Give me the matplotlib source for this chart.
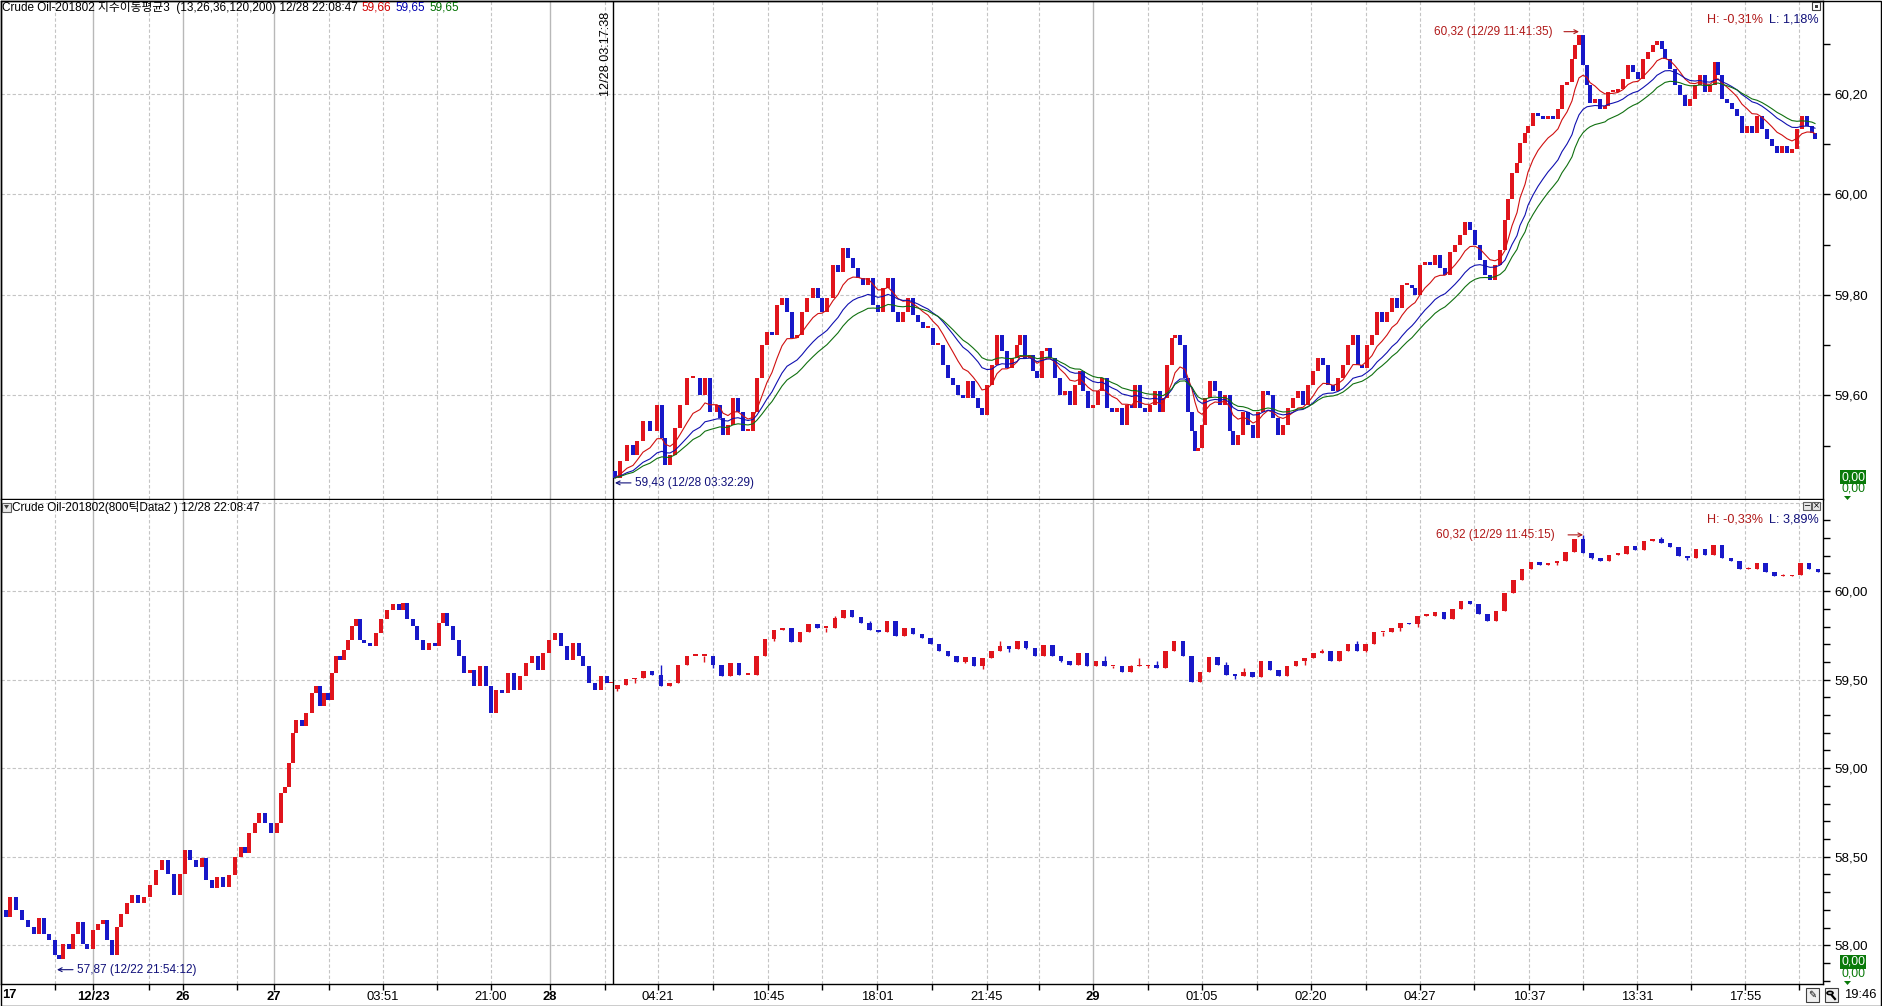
import numpy as np
import matplotlib
matplotlib.use('Agg')
import matplotlib.pyplot as plt
from matplotlib import font_manager as fm
from matplotlib.patches import Rectangle, Polygon, Circle
from matplotlib.lines import Line2D
from matplotlib.transforms import offset_copy

# ---------------- data ----------------
# top panel: tick chart closes (x = time slot on the shared axis)
top_x = [615, 620, 627, 633, 637, 643, 650, 657, 662, 665, 670, 675, 680, 687, 693, 700, 705, 710,
         717, 720, 723, 728, 733, 738, 743, 748, 753, 757, 762, 767, 772, 777, 782, 787, 792, 797,
         802, 807, 813, 818, 822, 827, 833, 838, 843, 848, 853, 858, 863, 868, 873, 878, 883, 888,
         893, 898, 903, 908, 913, 918, 923, 928, 933, 938, 943, 948, 953, 958, 963, 968, 973, 978,
         982, 987, 992, 997, 1002, 1007, 1012, 1017, 1020,
         1025, 1030, 1033, 1037, 1042, 1047, 1050, 1055, 1060, 1065, 1070, 1075, 1080, 1083, 1088,
         1093, 1098, 1102, 1107, 1112, 1117, 1122, 1127, 1132, 1135, 1140, 1145, 1150, 1155, 1160,
         1163, 1167, 1172, 1175, 1180, 1185, 1188, 1192, 1195, 1198, 1202, 1205, 1210, 1215, 1220,
         1225, 1230, 1233, 1238, 1243, 1248, 1253, 1258, 1263, 1268, 1273, 1278, 1283, 1288, 1293,
         1298, 1303, 1308, 1313, 1318, 1323, 1328, 1333, 1338, 1343, 1348, 1353, 1358, 1362, 1367,
         1372, 1377, 1382, 1387, 1392, 1397, 1402, 1407, 1412, 1415, 1420, 1425, 1430, 1435, 1440,
         1445, 1450,
         1455, 1460, 1465, 1470, 1475, 1480, 1485, 1490, 1495, 1500, 1505, 1508,
         1512, 1517, 1520, 1525, 1528, 1533, 1538, 1543, 1548, 1553, 1558, 1562, 1567, 1572, 1575,
         1579, 1583, 1587, 1590, 1595, 1600, 1605, 1608, 1613, 1618, 1623, 1628, 1633, 1638, 1643,
         1648, 1653, 1657, 1662, 1665, 1670, 1675, 1680, 1685, 1690, 1695, 1700, 1705, 1710, 1715,
         1718, 1722, 1727, 1732, 1737, 1742, 1747, 1752, 1757, 1762, 1767, 1772, 1777, 1782, 1787,
         1792, 1797, 1802, 1807, 1812, 1815]
top_close = [59.436, 59.469, 59.502, 59.482, 59.509, 59.549, 59.529, 59.582, 59.515, 59.462, 59.482,
             59.535, 59.582, 59.635, 59.635, 59.601, 59.635, 59.568, 59.582, 59.555, 59.522, 59.542,
             59.595, 59.568, 59.529, 59.529, 59.568, 59.635, 59.701, 59.727, 59.721, 59.780, 59.793,
             59.767, 59.714, 59.721, 59.767, 59.793, 59.813, 59.793, 59.767, 59.793, 59.860, 59.846,
             59.893, 59.873, 59.853, 59.833, 59.820, 59.833, 59.780, 59.767, 59.813, 59.833, 59.767,
             59.747, 59.767, 59.793, 59.760, 59.747, 59.734, 59.734, 59.701, 59.701, 59.661, 59.635,
             59.621, 59.601, 59.595, 59.628, 59.595, 59.575, 59.562, 59.621, 59.661, 59.721, 59.688,
             59.654, 59.674, 59.701, 59.721,
             59.674, 59.681, 59.648, 59.635, 59.688, 59.694, 59.674, 59.635, 59.601, 59.608, 59.582,
             59.621, 59.648, 59.608, 59.575, 59.582, 59.608, 59.635, 59.575, 59.568, 59.575, 59.542,
             59.582, 59.575, 59.621, 59.575, 59.568, 59.582, 59.608, 59.568, 59.595, 59.661, 59.714,
             59.721, 59.701, 59.635, 59.568, 59.529, 59.489, 59.496, 59.542, 59.595, 59.628, 59.608,
             59.582, 59.601, 59.529, 59.502, 59.522, 59.568, 59.542, 59.515, 59.568, 59.608, 59.601,
             59.555, 59.522, 59.542, 59.575, 59.595, 59.608, 59.582, 59.621, 59.648, 59.674, 59.661,
             59.621, 59.608, 59.635, 59.661, 59.701, 59.721, 59.661, 59.654, 59.701, 59.721, 59.767,
             59.747, 59.767, 59.793, 59.774, 59.820, 59.820, 59.813, 59.800, 59.860, 59.866, 59.860,
             59.880, 59.853, 59.840, 59.886,
             59.900, 59.920, 59.945, 59.930, 59.900, 59.870, 59.840, 59.830, 59.860, 59.890, 59.950,
             59.990,
             60.043, 60.063, 60.103, 60.123, 60.137, 60.163, 60.157, 60.150, 60.157, 60.150, 60.170,
             60.217, 60.223, 60.270, 60.297, 60.318, 60.257, 60.217, 60.183, 60.190, 60.170, 60.177,
             60.203, 60.203, 60.210, 60.230, 60.257, 60.243, 60.230, 60.270, 60.283, 60.297, 60.306,
             60.290, 60.270, 60.250, 60.217, 60.197, 60.177, 60.190, 60.217, 60.237, 60.203, 60.217,
             60.263, 60.237, 60.190, 60.183, 60.170, 60.157, 60.123, 60.137, 60.123, 60.157, 60.130,
             60.110, 60.097, 60.083, 60.097, 60.083, 60.090, 60.130, 60.157, 60.137, 60.123, 60.110]
top_open0 = 59.45

# bottom panel, dense part (800-tick bars before the cursor)
bot_x = [0, 6, 10, 16, 22, 28, 34, 39, 44, 49, 55, 59, 63, 69, 73, 78, 83, 87, 93, 98, 103, 107,
         112, 117, 121, 127, 132, 138, 144, 150, 156, 162, 168, 174, 180, 185, 190, 196, 202, 206,
         212, 217, 223, 229, 235, 241, 245, 249, 255, 259, 265, 271, 277, 281, 285, 289, 293, 296,
         302, 306, 312, 316, 320, 324, 328, 332, 336, 340, 344, 348, 352, 356, 360, 364, 370, 376,
         381, 387, 393, 399, 403, 407, 413, 417, 423, 429, 435, 439, 443, 447, 453, 459, 464, 470,
         474, 480, 486, 491, 496, 502, 508, 514, 520, 526, 532, 538, 543, 549, 555, 561, 567, 573,
         579, 583, 589, 595, 601, 607, 611]
bot_close = [58.198, 58.160, 58.273, 58.198, 58.141, 58.104, 58.066, 58.151, 58.066, 58.028, 57.943,
             57.924, 58.009, 57.981, 58.066, 58.132, 58.009, 57.981, 58.085, 58.122, 58.141, 58.028,
             57.943, 58.104, 58.179, 58.236, 58.283, 58.236, 58.273, 58.339, 58.424, 58.481, 58.405,
             58.283, 58.405, 58.538, 58.481, 58.443, 58.490, 58.368, 58.321, 58.387, 58.330, 58.396,
             58.500, 58.556, 58.519, 58.632, 58.689, 58.745, 58.689, 58.632, 58.689, 58.858, 58.896,
             59.028, 59.198, 59.274, 59.236, 59.311, 59.424, 59.462, 59.349, 59.424, 59.387, 59.538,
             59.632, 59.613, 59.670, 59.726, 59.802, 59.840, 59.726, 59.708, 59.689, 59.764, 59.840,
             59.896, 59.925, 59.896, 59.934, 59.840, 59.802, 59.726, 59.670, 59.708, 59.689, 59.821,
             59.877, 59.802, 59.726, 59.632, 59.538, 59.557, 59.462, 59.575, 59.462, 59.311, 59.443,
             59.424, 59.538, 59.443, 59.519, 59.594, 59.632, 59.557, 59.651, 59.726, 59.764, 59.689,
             59.613, 59.708, 59.632, 59.575, 59.481, 59.443, 59.519, 59.481, 59.481]
bot_open0 = 58.17

cursor_x = 613
ma_periods = [13, 26, 36]

# axis ticks (time slots) and labels
xlab_pos = [93, 183, 274, 383, 491, 550, 658, 768, 877, 987, 1093, 1202, 1311, 1420, 1529, 1637, 1745]
xlab_txt = ['12/23', '26', '27', '03:51', '21:00', '28', '04:21', '10:45', '18:01', '21:45', '29',
            '01:05', '02:20', '04:27', '10:37', '13:31', '17:55']
day_lines = [93, 183, 274, 550, 1093]
grid_x = [55, 149, 237, 329, 383, 437, 491, 605, 658, 713, 768, 822, 877, 932, 987, 1039, 1148, 1202,
          1257, 1311, 1366, 1420, 1474, 1529, 1583, 1637, 1691, 1745, 1799]
top_yticks = [59.6, 59.8, 60.0, 60.2]
bot_yticks = [58.0, 58.5, 59.0, 59.5, 60.0]

# ---------------- style ----------------
W, H, DPI = 1882, 1006, 100


def has_font(name):
    try:
        fm.findfont(fm.FontProperties(family=name), fallback_to_default=False)
        return True
    except Exception:
        return False


NARROW = has_font('Liberation Sans Narrow')
BASE = 'Liberation Sans Narrow' if NARROW else 'Liberation Sans'
plt.rcParams['font.family'] = [BASE, 'Noto Sans CJK KR', 'DejaVu Sans']
FS = 9.4 if NARROW else 8.2
FT = FS + 0.3          # header / annotation text size

RED = '#e0141c'
BLUE = '#1818c8'
DKRED = '#b01818'
NAVY = '#10107a'
GRID = '#c4c4c4'
GREEN = '#0a7a0a'

fig = plt.figure(figsize=(W / DPI, H / DPI), dpi=DPI)
fig.patch.set_facecolor('white')


def fx(px):
    return px / W


def fy(py):
    return 1 - py / H


ax_top = fig.add_axes([fx(1), fy(499), (1823 - 1) / W, 498 / H])
ax_bot = fig.add_axes([fx(1), fy(984), (1823 - 1) / W, (984 - 500) / H])

XL = (1, 1823)
for ax in (ax_top, ax_bot):
    ax.set_xlim(*XL)
    ax.set_facecolor('white')
    for s in ax.spines.values():
        s.set_color('black')
        s.set_linewidth(1.0)
    ax.yaxis.tick_right()
    ax.tick_params(axis='y', which='both', direction='out', right=True, left=False,
                   color='black', width=1, labelsize=FS + 1.4, pad=3)
    ax.tick_params(axis='y', which='major', length=5)
    ax.tick_params(axis='y', which='minor', length=5)
    for gx in grid_x:
        ax.axvline(gx, color=GRID, lw=0.8, ls=(0, (3, 2)), zorder=0)
    for gx in day_lines:
        ax.axvline(gx, color='#b8b8b8', lw=1.0, zorder=0)
    ax.axvline(cursor_x, color='black', lw=1.0, zorder=2)

ax_bot.spines['top'].set_visible(False)

# y axes
ax_top.set_ylim(59.394, 60.385)
ax_top.set_yticks(top_yticks, [f'{v:.2f}'.replace('.', ',') for v in top_yticks])
ax_top.set_yticks([59.5, 59.7, 59.9, 60.1, 60.3], minor=True)
for v in top_yticks:
    ax_top.axhline(v, color=GRID, lw=0.8, ls=(0, (3, 2)), zorder=0)
ax_top.tick_params(axis='x', which='both', bottom=False, labelbottom=False)

ax_bot.set_ylim(57.781, 60.515)
ax_bot.set_yticks(bot_yticks, [f'{v:.2f}'.replace('.', ',') for v in bot_yticks])
ax_bot.set_yticks([v / 10 for v in range(578, 606) if v % 5 != 0], minor=True)
for v in bot_yticks + [60.5]:
    ax_bot.axhline(v, color=GRID, lw=0.8, ls=(0, (3, 2)), zorder=0)

# x axis
ax_bot.set_xticks(xlab_pos, xlab_txt)
ax_bot.set_xticks(grid_x, minor=True)
ax_bot.tick_params(axis='x', which='both', direction='out', length=4, width=1, color='black',
                   labelsize=FS + 1.2, pad=1)
for t, s in zip(ax_bot.get_xticklabels(), xlab_txt):
    if ':' not in s:
        t.set_fontweight('bold')


# ---------------- candles ----------------
def draw_candles(ax, x, o, c, w, minh, hi=None, lo=None):
    x = np.asarray(x, float)
    o = np.asarray(o, float)
    c = np.asarray(c, float)
    up = c >= o
    cols = np.where(up, RED, BLUE)
    if hi is not None:
        ax.vlines(x, lo, hi, colors=cols, lw=1.0, zorder=3)
    bot = np.minimum(o, c)
    h = np.maximum(np.abs(c - o), minh)
    ax.bar(x, h, w, bot, color=cols, linewidth=0, zorder=4)


tc = np.array(top_close)
to = np.concatenate([[top_open0], tc[:-1]])
draw_candles(ax_top, top_x, to, tc, 4.3, 0.004)

# exponential moving averages (spans scaled to the coarser bar sampling)
eff_span = [p * 0.66 for p in ma_periods]
for span, col in zip(eff_span, ['#d01010', '#1010b0', '#107010']):
    a = 2.0 / (span + 1.0)
    e = np.empty_like(tc)
    e[0] = tc[0]
    for i in range(1, len(tc)):
        e[i] = a * tc[i] + (1 - a) * e[i - 1]
    ax_top.plot(top_x, e, color=col, lw=0.8, zorder=5)

bc = np.array(bot_close)
bo = np.concatenate([[bot_open0], bc[:-1]])
draw_candles(ax_bot, bot_x, bo, bc, 4.8, 0.008)

# bottom panel after the cursor: 800-tick bars built from the same ticks
tx = np.array(top_x, float)
bin_w = 8.7
idx = np.floor((tx - cursor_x) / bin_w).astype(int)
sx, so, sc, sh, sl = [], [], [], [], []
for k in np.unique(idx):
    m = np.where(idx == k)[0]
    sx.append(cursor_x + (k + 0.5) * bin_w)
    so.append(to[m[0]])
    sc.append(tc[m[-1]])
    sh.append(max(to[m].max(), tc[m].max()))
    sl.append(min(to[m].min(), tc[m].min()))
draw_candles(ax_bot, sx, so, sc, 4.5, 0.01, sh, sl)

# ---------------- annotations ----------------
ARW = dict(lw=0.8, shrinkA=0, shrinkB=0, mutation_scale=7)
kh = int(np.argmax(tc))
t_up = offset_copy(ax_top.transData, fig=fig, x=0, y=3, units='dots')
ax_top.annotate('', xy=(top_x[kh], tc[kh]), xycoords=t_up, xytext=(-15, 0),
                textcoords='offset pixels', arrowprops=dict(arrowstyle='->', color=DKRED, **ARW))
ax_top.annotate('60,32 (12/29 11:41:35)', xy=(top_x[kh], tc[kh]), xycoords=t_up,
                xytext=(-26, 0), textcoords='offset pixels', ha='right', va='center',
                color=DKRED, fontsize=FT)

kl = int(np.argmin(tc))
t_dn = offset_copy(ax_top.transData, fig=fig, x=0, y=-5, units='dots')
ax_top.annotate('', xy=(top_x[kl], tc[kl]), xycoords=t_dn, xytext=(16, 0),
                textcoords='offset pixels', arrowprops=dict(arrowstyle='->', color=NAVY, **ARW))
ax_top.annotate('59,43 (12/28 03:32:29)', xy=(top_x[kl], tc[kl]), xycoords=t_dn,
                xytext=(20, 0), textcoords='offset pixels', ha='left', va='center',
                color=NAVY, fontsize=FT)

kb = int(np.argmin(bc))
t_dn2 = offset_copy(ax_bot.transData, fig=fig, x=0, y=-11, units='dots')
ax_bot.annotate('', xy=(bot_x[kb] - 2, bc[kb]), xycoords=t_dn2, xytext=(16, 0),
                textcoords='offset pixels', arrowprops=dict(arrowstyle='->', color=NAVY, **ARW))
ax_bot.annotate('57,87 (12/22 21:54:12)', xy=(bot_x[kb] - 2, bc[kb]), xycoords=t_dn2,
                xytext=(20, 0), textcoords='offset pixels', ha='left', va='center',
                color=NAVY, fontsize=FT)

ks = int(np.argmax(sh))
ax_bot.annotate('', xy=(sx[ks], sh[ks]), xytext=(-15, 0), textcoords='offset pixels',
                arrowprops=dict(arrowstyle='->', color=DKRED, **ARW))
ax_bot.annotate('60,32 (12/29 11:45:15)', xy=(sx[ks], sh[ks]), xytext=(-28, 0),
                textcoords='offset pixels', ha='right', va='center', color=DKRED,
                fontsize=FT)

# ---------------- header texts ----------------
renderer = fig.canvas.get_renderer()


def chain(parts, x0, y, fs, gap):
    x = x0
    for s, col in parts:
        t = fig.text(fx(x), fy(y), s, color=col, fontsize=fs, ha='left', va='center')
        bb = t.get_window_extent(renderer=renderer)
        x += bb.width + gap


chain([('Crude Oil-201802 지수이동평균3  (13,26,36,120,200) 12/28 22:08:47', 'black'),
       ('59,66', '#d00000'), ('59,65', '#0000b0'), ('59,65', '#007000')], 2, 8, FT, 4)

fig.text(fx(12), fy(507), 'Crude Oil-201802(800틱Data2 ) 12/28 22:08:47', fontsize=FT,
         ha='left', va='center', color='black')
fig.patches.append(Rectangle((fx(2), fy(512)), 9 / W, 9 / H, transform=fig.transFigure,
                             facecolor='#e8e8e8', edgecolor='#606060', lw=0.8))
fig.patches.append(Polygon([(fx(4), fy(505)), (fx(9), fy(505)), (fx(6.5), fy(509))],
                           closed=True, transform=fig.transFigure, facecolor='#404040',
                           edgecolor='none'))

fig.text(fx(606), fy(12), '12/28 03:17:38', rotation=90, ha='center', va='top',
         fontsize=FT + 0.6, color='black')

# H / L percentages
for y, h, l in [(19, 'H: -0,31%', 'L: 1,18%'), (520, 'H: -0,33%', 'L: 3,89%')]:
    fig.text(fx(1819), fy(y), l, color=NAVY, fontsize=FT + 0.6, ha='right', va='center')
    fig.text(fx(1763), fy(y), h, color=DKRED, fontsize=FT + 0.6, ha='right', va='center')

# small panel icons
fig.patches.append(Rectangle((fx(1812), fy(10)), 8 / W, 8 / H, transform=fig.transFigure,
                             facecolor='white', edgecolor='#404040', lw=0.8))
fig.patches.append(Rectangle((fx(1814.5), fy(7.5)), 3 / W, 3 / H, transform=fig.transFigure,
                             facecolor='#404040', edgecolor='none'))
for x0, sym in [(1803, '−'), (1812, '×')]:
    fig.patches.append(Rectangle((fx(x0), fy(510)), 8 / W, 8 / H, transform=fig.transFigure,
                                 facecolor='#e8e8e8', edgecolor='#606060', lw=0.8))
    fig.text(fx(x0 + 4), fy(506), sym, fontsize=6, ha='center', va='center', color='black',
             family='DejaVu Sans')

# green last-value markers in the right margin
for yb in (477, 962):
    fig.text(fx(1853), fy(yb), '0,00', fontsize=FS + 0.6, ha='center', va='center',
             color='white', bbox=dict(boxstyle='square,pad=0.05', facecolor=GREEN,
                                      edgecolor='none'))
    fig.text(fx(1853), fy(yb + 12), '0,00', fontsize=FS + 0.6, ha='center', va='center',
             color=GREEN)
    fig.patches.append(Polygon([(fx(1844), fy(yb + 19)), (fx(1851), fy(yb + 19)),
                                (fx(1847.5), fy(yb + 23))], closed=True,
                               transform=fig.transFigure, facecolor=GREEN, edgecolor='none'))

# x-axis strip extras
fig.text(fx(2), fy(995), '17', fontsize=FS + 1.2, fontweight='bold', ha='left', va='center')
fig.text(fx(1860), fy(995), '19:46', fontsize=FS + 1.2, ha='center', va='center')
for x0 in (1806, 1825):
    fig.patches.append(Rectangle((fx(x0), fy(1002)), 13 / W, 14 / H, transform=fig.transFigure,
                                 facecolor='#f0f0f0', edgecolor='#404040', lw=0.8))
fig.text(fx(1812.5), fy(995), '✎', fontsize=7, ha='center', va='center', color='black',
         family='DejaVu Sans')
# magnifier glyph drawn as a shape
fig.patches.append(Circle((fx(1830), fy(993)), 3 / W, transform=fig.transFigure,
                          facecolor='none', edgecolor='black', lw=1.2))
fig.lines.append(Line2D([fx(1832), fx(1835)], [fy(995.5), fy(999)], transform=fig.transFigure,
                        color='black', lw=1.6))

# outer frame
fig.patches.append(Rectangle((0.5 / W, 0.5 / H), (W - 1.5) / W, (H - 1.5) / H,
                             transform=fig.transFigure, facecolor='none', edgecolor='black',
                             lw=1.0))

fig.savefig('out.png', dpi=DPI, facecolor='white')
